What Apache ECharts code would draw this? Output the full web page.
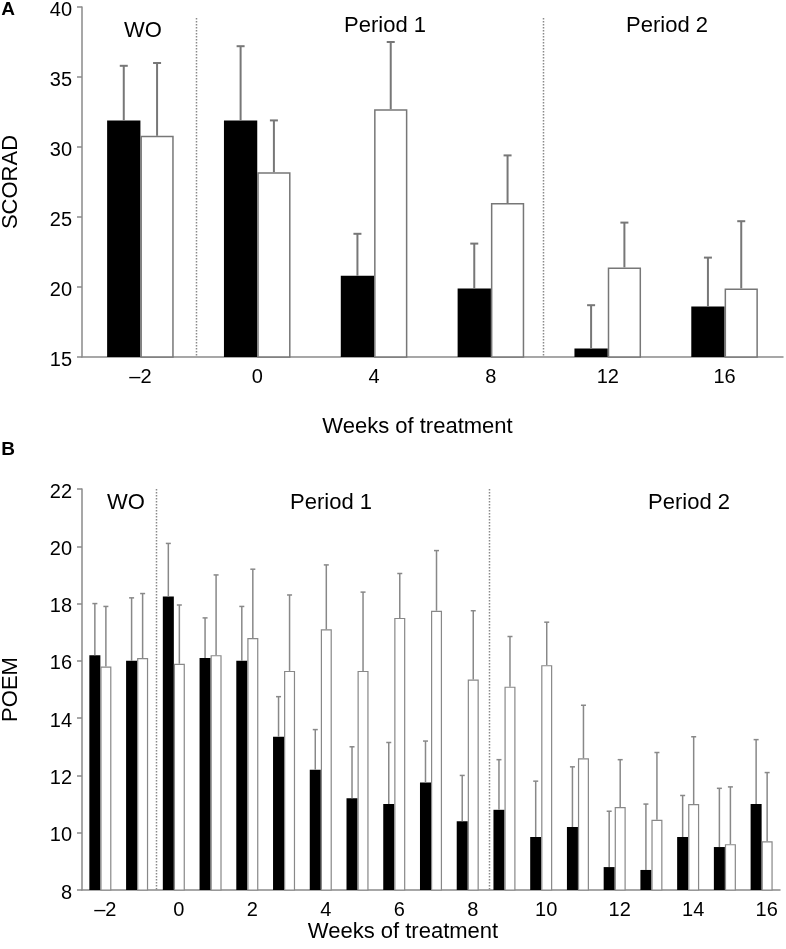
<!DOCTYPE html>
<html>
<head>
<meta charset="utf-8">
<script src="https://cdn.jsdelivr.net/npm/echarts@6/dist/echarts.min.js"></script>
<style>
  html, body { margin: 0; padding: 0; background: #fff; }
  #chart { width: 786px; height: 949px; }
</style>
</head>
<body>
<div id="chart"></div>
<script>
// ---------- Panel A : SCORAD ----------
const scoradWeeks = ['\u20132', '0', '4', '8', '12', '16'];
const scoradBlack = [31.9, 31.9, 20.8, 19.9, 15.6, 18.6];
const scoradBlackUpper = [35.8, 37.2, 23.8, 23.1, 18.7, 22.1];
const scoradWhite = [30.8, 28.2, 32.7, 26.0, 21.4, 19.9];
const scoradWhiteUpper = [36.0, 31.9, 37.5, 29.4, 24.6, 24.7];
const scoradPeriodBreaks = [0.98, 3.95];

// ---------- Panel B : POEM ----------
const poemWeeks = ['\u20132', '\u20131', '0', '1', '2', '3', '4', '5', '6', '7', '8',
                   '9', '10', '11', '12', '13', '14', '15', '16'];
const poemBlack = [16.2, 16.0, 18.25, 16.1, 16.0, 13.35, 12.2, 11.2, 11.0, 11.75, 10.4,
                   10.8, 9.85, 10.2, 8.8, 8.7, 9.85, 9.5, 11.0];
const poemBlackUpper = [18.0, 18.2, 20.1, 17.5, 17.9, 14.75, 13.6, 13.0, 13.15, 13.2, 12.0,
                        12.55, 11.8, 12.3, 10.75, 11.0, 11.3, 11.55, 13.25];
const poemWhite = [15.8, 16.1, 15.9, 16.2, 16.8, 15.65, 17.1, 15.65, 17.5, 17.75, 15.35,
                   15.1, 15.85, 12.6, 10.9, 10.45, 11.0, 9.6, 9.7];
const poemWhiteUpper = [17.9, 18.35, 17.95, 19.0, 19.2, 18.3, 19.35, 18.4, 19.05, 19.85, 17.75,
                        16.85, 17.35, 14.45, 12.55, 12.8, 13.35, 11.6, 12.1];
const poemPeriodBreaks = [2.02, 11.08];

const FONT = "'Liberation Sans', Arial, Helvetica, sans-serif";
const AXIS_GRAY = '#8a8a8a';

function errData(means, uppers) {
  return means.map((m, i) => [i, m, uppers[i]]);
}

function errRenderer(side, gapFrac, capHalf, lineW, color) {
  return function (params, api) {
    const i = api.value(0);
    const m = api.value(1);
    const u = api.value(2);
    const catW = api.size([1, 0])[0];
    const bw = catW * (1 - gapFrac) / 2;
    const base = api.coord([i, m]);
    const cx = base[0] + side * bw / 2;
    const y0 = base[1];
    const y1 = api.coord([i, u])[1];
    const st = { stroke: color, lineWidth: lineW };
    return {
      type: 'group',
      children: [
        { type: 'line', shape: { x1: cx, y1: y0, x2: cx, y2: y1 }, style: st },
        { type: 'line', shape: { x1: cx - capHalf, y1: y1, x2: cx + capHalf, y2: y1 }, style: st }
      ]
    };
  };
}

function dividerRenderer(topInset) {
  return function (params, api) {
    const cs = params.coordSys;
    const x = Math.round(api.coord([api.value(0), api.value(1)])[0]) + 0.5;
    return {
      type: 'line',
      shape: { x1: x, y1: cs.y + topInset, x2: x, y2: cs.y + cs.height },
      style: { stroke: '#8a8a8a', lineWidth: 1.5, lineDash: [1.5, 1.5] }
    };
  };
}

function catAxis(gridIndex, data, extraLabel, name, nameGap, namePad) {
  return {
    type: 'category', gridIndex: gridIndex, data: data,
    axisLine: { lineStyle: { color: AXIS_GRAY, width: 1.5 } },
    axisTick: { interval: 0, length: 5, lineStyle: { color: AXIS_GRAY, width: 1.5 } },
    axisLabel: Object.assign({ color: '#000', fontSize: 20, fontFamily: FONT, margin: 10 }, extraLabel),
    splitLine: { show: false },
    name: name, nameLocation: 'middle', nameGap: nameGap,
    nameTextStyle: { color: '#000', fontSize: 22, fontFamily: FONT, padding: namePad }
  };
}

function valAxis(gridIndex, min, max, interval, name) {
  return {
    type: 'value', gridIndex: gridIndex, min: min, max: max, interval: interval,
    axisLine: { show: true, lineStyle: { color: AXIS_GRAY, width: 1.5 } },
    axisTick: { show: true, length: 5, lineStyle: { color: AXIS_GRAY, width: 1.5 } },
    axisLabel: {
      color: '#000', fontSize: 20, fontFamily: FONT, margin: 10,
      formatter: '{v|{value}}',
      rich: { v: { color: '#000', fontSize: 20, fontFamily: FONT, padding: [6, 0, 0, 0] } }
    },
    splitLine: { show: false },
    name: name, nameLocation: 'middle', nameGap: 60,
    nameTextStyle: { color: '#000', fontSize: 22, fontFamily: FONT }
  };
}

function label(text, x, y, size, weight) {
  return {
    type: 'text', x: x, y: y,
    style: {
      text: text, fill: '#000',
      font: (weight || 'normal') + ' ' + size + 'px ' + FONT,
      textAlign: 'center', textVerticalAlign: 'middle',
      align: 'center', verticalAlign: 'middle'
    }
  };
}

const GAP_A = 0.43, GAP_B = 0.40;

const option = {
  animation: false,
  backgroundColor: '#fff',
  textStyle: { fontFamily: FONT },
  grid: [
    { left: 82, right: 3, top: 7, height: 350, containLabel: false, outerBoundsMode: 'none' },
    { left: 82, right: 6, top: 489, height: 401, containLabel: false, outerBoundsMode: 'none' }
  ],
  xAxis: [
    catAxis(0, scoradWeeks, {}, 'Weeks of treatment', 59, [0, 30, 0, 0]),
    { type: 'value', gridIndex: 0, min: 0, max: scoradWeeks.length, show: false },
    catAxis(1, poemWeeks, { interval: 1, padding: [0, 0, 0, 10] }, 'Weeks of treatment', 31, [0, 56, 0, 0]),
    { type: 'value', gridIndex: 1, min: 0, max: poemWeeks.length, show: false }
  ],
  yAxis: [
    valAxis(0, 15, 40, 5, 'SCORAD'),
    valAxis(1, 8, 22, 2, 'POEM')
  ],
  graphic: [
    label('A', 8, 10, 19, 'bold'),
    label('B', 8, 450, 19, 'bold'),
    label('WO', 143, 31, 22),
    label('Period 1', 385, 26, 22),
    label('Period 2', 667, 26, 22),
    label('WO', 126, 503, 22),
    label('Period 1', 331, 503, 22),
    label('Period 2', 689, 503, 22)
  ],
  series: [
    // Panel A bars
    { type: 'bar', xAxisIndex: 0, yAxisIndex: 0, data: scoradBlack,
      barCategoryGap: (GAP_A * 100) + '%', barGap: '0%',
      itemStyle: { color: '#000' } },
    { type: 'bar', xAxisIndex: 0, yAxisIndex: 0, data: scoradWhite,
      barCategoryGap: (GAP_A * 100) + '%', barGap: '0%',
      itemStyle: { color: '#fff', borderColor: '#777', borderWidth: 1.5 } },
    { type: 'custom', xAxisIndex: 0, yAxisIndex: 0, data: errData(scoradBlack, scoradBlackUpper),
      renderItem: errRenderer(-1, GAP_A, 4, 2, '#777'), z: 3 },
    { type: 'custom', xAxisIndex: 0, yAxisIndex: 0, data: errData(scoradWhite, scoradWhiteUpper),
      renderItem: errRenderer(1, GAP_A, 4, 2, '#777'), z: 3 },
    { type: 'custom', xAxisIndex: 1, yAxisIndex: 0, data: scoradPeriodBreaks.map(b => [b, 15]),
      renderItem: dividerRenderer(11), z: 4 },

    // Panel B bars
    { type: 'bar', xAxisIndex: 2, yAxisIndex: 1, data: poemBlack,
      barCategoryGap: (GAP_B * 100) + '%', barGap: '0%',
      itemStyle: { color: '#000' } },
    { type: 'bar', xAxisIndex: 2, yAxisIndex: 1, data: poemWhite,
      barCategoryGap: (GAP_B * 100) + '%', barGap: '0%',
      itemStyle: { color: '#fff', borderColor: '#888', borderWidth: 1.2 } },
    { type: 'custom', xAxisIndex: 2, yAxisIndex: 1, data: errData(poemBlack, poemBlackUpper),
      renderItem: errRenderer(-1, GAP_B, 2.5, 1.5, '#888'), z: 3 },
    { type: 'custom', xAxisIndex: 2, yAxisIndex: 1, data: errData(poemWhite, poemWhiteUpper),
      renderItem: errRenderer(1, GAP_B, 2.5, 1.5, '#888'), z: 3 },
    { type: 'custom', xAxisIndex: 3, yAxisIndex: 1, data: poemPeriodBreaks.map(b => [b, 8]),
      renderItem: dividerRenderer(0), z: 4 }
  ]
};

const chart = echarts.init(document.getElementById('chart'), null, { renderer: 'canvas' });
chart.setOption(option);
</script>
</body>
</html>
